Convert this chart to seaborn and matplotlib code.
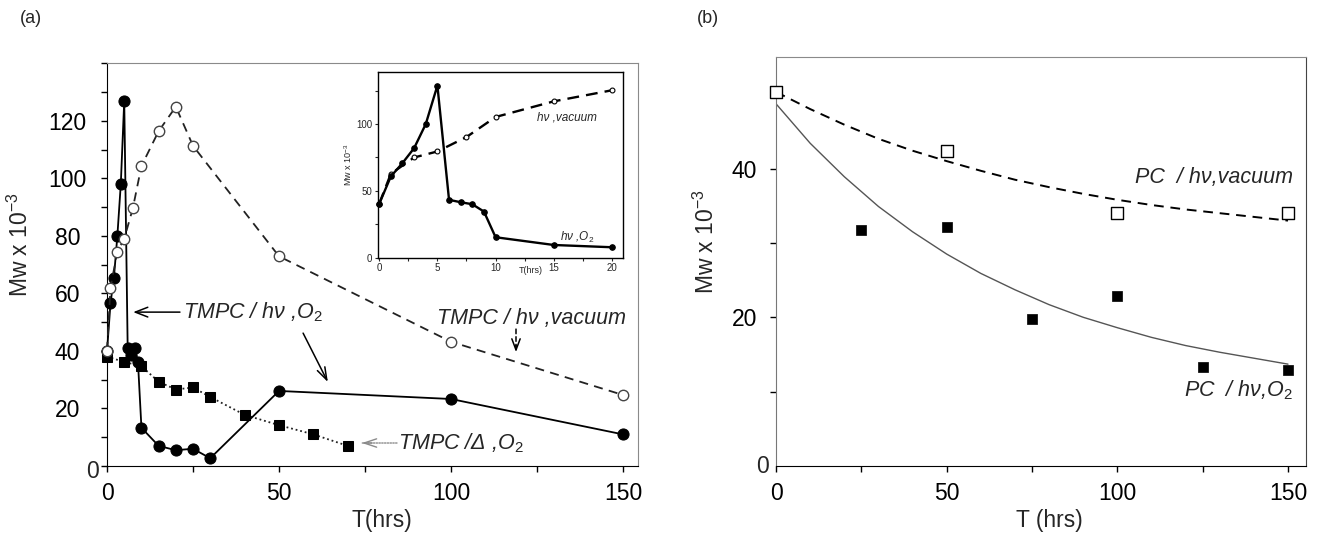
import matplotlib
matplotlib.use("Agg")
import matplotlib.pyplot as plt
from matplotlib.ticker import MultipleLocator, FixedLocator
import seaborn as sns

# ---- panel (a): TMPC main plot ----
t_o2 = [0, 1, 2, 3, 4, 5, 6, 7, 8, 9, 10, 15, 20, 25, 30, 50, 100, 150]
mw_o2 = [40, 56.5, 65.5, 80, 98, 127, 41, 38.5, 41, 36, 13.3, 7, 5.5, 6, 2.7, 26.1, 23.3, 11.0]
t_vac = [0, 1, 3, 5, 7.5, 10, 15, 20, 25, 50, 100, 150]
mw_vac = [40, 62, 74.5, 79, 89.6, 104.3, 116.4, 124.9, 111.3, 72.9, 43.2, 24.7]
t_heat = [0, 5, 10, 15, 20, 25, 30, 40, 50, 60, 70]
mw_heat = [38, 36.2, 34.7, 29.3, 26.6, 27.3, 24, 17.8, 14.2, 11.0, 7.0]

# ---- inset (first 20 hrs) ----
t_in_o2 = [0, 1, 2, 3, 4, 5, 6, 7, 8, 9, 10, 15, 20]
mw_in_o2 = [40.3, 60.8, 70.8, 82, 100, 128.8, 43.3, 41.5, 40, 34.5, 15.3, 9.5, 7.8]
t_in_vac = [0, 1, 3, 5, 7.5, 10, 15, 20]
mw_in_vac = [40.3, 62.8, 75, 79.5, 90.3, 105.3, 117, 125.3]

# ---- panel (b): PC ----
t_pc_vac = [0, 50, 100, 150]
mw_pc_vac = [50.3, 42.3, 34.0, 34.0]
t_pc_o2 = [25, 50, 75, 100, 125, 150]
mw_pc_o2 = [31.7, 32.2, 19.8, 22.8, 13.3, 12.9]
# fitted curves, every 10 hrs
t_fit = [0, 10, 20, 30, 40, 50, 60, 70, 80, 90, 100, 110, 120, 130, 140, 150]
fit_vac = [50.3, 48.0, 45.9, 44.0, 42.4, 41.0, 39.7, 38.5, 37.5, 36.6, 35.8, 35.1, 34.5, 34.0, 33.5, 33.0]
fit_o2 = [48.7, 43.4, 38.9, 34.9, 31.5, 28.5, 25.9, 23.7, 21.7, 20.0, 18.6, 17.3, 16.2, 15.3, 14.5, 13.7]

sns.set_style("ticks")
plt.rcParams["font.family"] = ["Liberation Sans", "DejaVu Sans"]
plt.rcParams["mathtext.fontset"] = "custom"
plt.rcParams["mathtext.rm"] = "Liberation Sans"
plt.rcParams["mathtext.it"] = "Liberation Sans:italic"

fig = plt.figure(figsize=(13.33, 5.41), dpi=100)
ax = fig.add_axes([0.0803, 0.1386, 0.3984, 0.7444])
bx = fig.add_axes([0.5822, 0.1386, 0.3976, 0.756])
ins = fig.add_axes([0.2836, 0.5237, 0.1838, 0.3433])

FS = 16.5
frame = "#8a8a8a"

# ---------------- (a) ----------------
sns.lineplot(x=t_heat, y=mw_heat, ax=ax, color="#222222", lw=1.3, ls=(0, (1, 1.6)),
             marker="s", ms=7, mec="black", mfc="black", clip_on=False, zorder=3)
sns.lineplot(x=t_vac, y=mw_vac, ax=ax, color="#222222", lw=1.3, ls=(0, (5, 3.5)),
             marker="o", ms=7.5, mec="#444444", mfc="white", mew=1.0, clip_on=False, zorder=4)
sns.lineplot(x=t_o2, y=mw_o2, ax=ax, color="black", lw=1.3, ls="-",
             marker="o", ms=8, mec="black", mfc="black", clip_on=False, zorder=3)

ax.set_xlim(0, 154.4)
ax.set_ylim(0, 140)
ax.xaxis.set_major_locator(MultipleLocator(50))
ax.xaxis.set_minor_locator(MultipleLocator(25))
ax.yaxis.set_major_locator(FixedLocator([20, 40, 60, 80, 100, 120]))
ax.yaxis.set_minor_locator(MultipleLocator(10))
ax.tick_params(which="both", direction="out", length=4.5, width=1, colors="black")
ax.tick_params(axis="y", labelsize=FS, pad=24)
ax.tick_params(axis="x", labelsize=FS, pad=7)
for lbl in ax.get_yticklabels():
    lbl.set_horizontalalignment("center")
ax.text(-0.027, -0.014, "0", transform=ax.transAxes, ha="center", va="center", fontsize=FS)
for s in ["top", "right"]:
    ax.spines[s].set_color(frame)
ax.spines["left"].set_color("black")
ax.spines["bottom"].set_color("black")
ax.set_xlabel("T(hrs)", fontsize=FS)
ax.set_ylabel("Mw x 10$^{-3}$", fontsize=FS)
ax.xaxis.set_label_coords(0.518, -0.107)
ax.yaxis.set_label_coords(-0.139, 0.55)

# annotations in (a)
arrow_kw = dict(shrinkA=0, shrinkB=0)
ax.text(22.1, 53.5, "TMPC / h\u03bd ,O$_2$", fontsize=15.5, style="italic", ha="left", va="center")
ax.annotate("", xy=(7.6, 53.5), xytext=(21.2, 53.5),
            arrowprops=dict(arrowstyle="->,head_length=0.9,head_width=0.35", lw=1.1,
                            color="black", **arrow_kw))
ax.annotate("", xy=(64.2, 29.2), xytext=(57.0, 46.2),
            arrowprops=dict(arrowstyle="->,head_length=0.9,head_width=0.3", lw=1.1,
                            color="black", **arrow_kw))
ax.text(95.9, 51.4, "TMPC / h\u03bd ,vacuum", fontsize=15.5, style="italic", ha="left", va="center")
ax.annotate("", xy=(118.9, 41.5), xytext=(118.9, 47.6),
            arrowprops=dict(arrowstyle="-", lw=1.1, color="black", ls=(0, (3, 2)), **arrow_kw))
ax.annotate("", xy=(118.9, 39.6), xytext=(118.9, 42.0),
            arrowprops=dict(arrowstyle="->,head_length=0.8,head_width=0.3", lw=1.1,
                            color="black", **arrow_kw))
ax.text(84.5, 8.0, "TMPC /\u0394 ,O$_2$", fontsize=15.5, style="italic", ha="left", va="center")
ax.annotate("", xy=(74.1, 8.0), xytext=(84.3, 8.0),
            arrowprops=dict(arrowstyle="-", lw=1.0, color="#8a8a8a", ls=(0, (1, 1)), **arrow_kw))
ax.annotate("", xy=(74.1, 8.0), xytext=(77.0, 8.0),
            arrowprops=dict(arrowstyle="->,head_length=0.9,head_width=0.3", lw=1.0,
                            color="#8a8a8a", **arrow_kw))

# ---------------- inset ----------------
sns.lineplot(x=t_in_vac, y=mw_in_vac, ax=ins, color="black", lw=1.7, ls=(0, (5, 3)),
             marker="o", ms=3.5, mec="black", mfc="white", mew=0.8, clip_on=False, zorder=3)
sns.lineplot(x=t_in_o2, y=mw_in_o2, ax=ins, color="black", lw=1.7, ls="-",
             marker="o", ms=4, mec="black", mfc="black", clip_on=False, zorder=4)
ins.set_xlim(-0.1, 20.95)
ins.set_ylim(0, 139)
ins.xaxis.set_major_locator(MultipleLocator(5))
ins.xaxis.set_minor_locator(MultipleLocator(2.5))
ins.yaxis.set_major_locator(MultipleLocator(50))
ins.yaxis.set_minor_locator(MultipleLocator(25))
ins.tick_params(which="both", direction="out", length=2.5, width=0.8, labelsize=7, pad=1.5)
for s in ins.spines.values():
    s.set_color("black")
    s.set_linewidth(1.0)
ins.set_xlabel("")
ins.set_ylabel("Mw x 10$^{-3}$", fontsize=6.5, labelpad=2)
ins.text(13.0, -9.5, "T(hrs)", fontsize=6.5, ha="center", va="center", clip_on=False)
ins.text(13.6, 104.7, "h\u03bd ,vacuum", fontsize=8.5, style="italic", ha="left", va="center")
ins.text(15.5, 14.8, "h\u03bd ,O$_2$", fontsize=8.5, style="italic", ha="left", va="center")

# ---------------- (b) ----------------
sns.lineplot(x=t_fit, y=fit_vac, ax=bx, color="black", lw=1.4, ls=(0, (5, 3.5)), zorder=2)
sns.lineplot(x=t_fit, y=fit_o2, ax=bx, color="#555555", lw=1.0, ls="-", zorder=2)
sns.scatterplot(x=t_pc_vac, y=mw_pc_vac, ax=bx, marker="s", s=70, facecolor="white",
                edgecolor="black", linewidth=1.0, clip_on=False, zorder=4)
sns.scatterplot(x=t_pc_o2, y=mw_pc_o2, ax=bx, marker="s", s=60, color="black",
                edgecolor="black", linewidth=0.5, clip_on=False, zorder=4)
bx.set_xlim(0, 155.3)
bx.set_ylim(0, 55)
bx.xaxis.set_major_locator(MultipleLocator(50))
bx.xaxis.set_minor_locator(MultipleLocator(25))
bx.yaxis.set_major_locator(FixedLocator([20, 40]))
bx.yaxis.set_minor_locator(FixedLocator([10, 30, 50]))
bx.tick_params(which="both", direction="out", length=4.5, width=1, colors="black")
bx.tick_params(axis="y", labelsize=FS, pad=9)
bx.tick_params(axis="x", labelsize=FS, pad=7)
bx.text(-0.026, 0.0, "0", transform=bx.transAxes, ha="center", va="center", fontsize=FS)
bx.spines["top"].set_color(frame)
bx.spines["left"].set_color("#777777")
bx.spines["right"].set_color("#444444")
bx.spines["bottom"].set_color("black")
bx.set_xlabel("T (hrs)", fontsize=FS)
bx.set_ylabel("Mw x 10$^{-3}$", fontsize=FS)
bx.xaxis.set_label_coords(0.515, -0.105)
bx.yaxis.set_label_coords(-0.107, 0.55)
bx.text(151.5, 38.8, "PC  / h\u03bd,vacuum", fontsize=15.5, style="italic", ha="right", va="center")
bx.text(151.5, 10.2, "PC  / h\u03bd,O$_2$", fontsize=15.5, style="italic", ha="right", va="center")

fig.text(0.015, 0.966, "(a)", fontsize=13, ha="left", va="center")
fig.text(0.523, 0.966, "(b)", fontsize=13, ha="left", va="center")

fig.savefig("out.png", dpi=100)
